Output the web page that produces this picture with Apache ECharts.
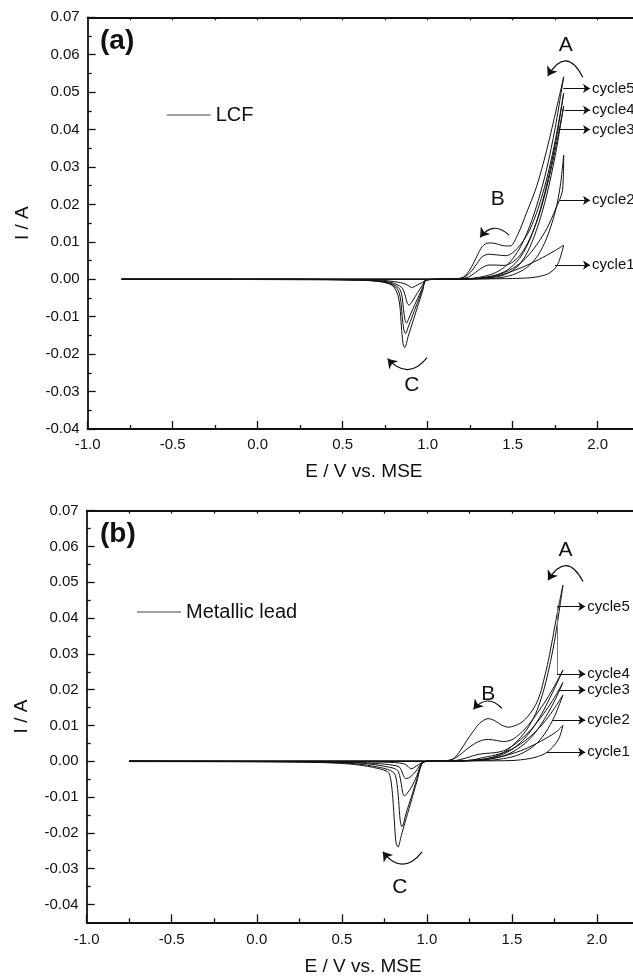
<!DOCTYPE html>
<html>
<head>
<meta charset="utf-8">
<script src="https://cdn.jsdelivr.net/npm/echarts@6/dist/echarts.min.js"></script>
<style>
  html, body { margin: 0; padding: 0; background: #fff; }
  #chart { width: 633px; height: 977px; }
</style>
</head>
<body>
<div id="chart"></div>
<script>
// ---------- axis ticks ----------
const xMajorTicks = [-1.0, -0.5, 0.0, 0.5, 1.0, 1.5, 2.0];
const xMinorTicks = [-0.75, -0.25, 0.25, 0.75, 1.25, 1.75];
const xTopTicks = [-0.75, -0.5, -0.25, 0, 0.25, 0.5, 0.75, 1.0, 1.25, 1.5, 1.75, 2.0];
const yMajorTicks = [-0.04, -0.03, -0.02, -0.01, 0, 0.01, 0.02, 0.03, 0.04, 0.05, 0.06, 0.07];
const yMinorTicks = [-0.035, -0.025, -0.015, -0.005, 0.005, 0.015, 0.025, 0.035, 0.045, 0.055, 0.065];

// ---------- (a) LCF : forward / reverse scans, [E (V vs. MSE), I (A)] ----------
const lcfFwd1 = [[-0.8,0],[0.5,0],[1.0,0],[1.3,0.0001],[1.5,0.0002],[1.6,0.0004],[1.65,0.0007],[1.7,0.0013],[1.74,0.0025],[1.77,0.0045],[1.8,0.0091]];
const lcfRev1 = [[1.8,0.0091],[1.75,0.0077],[1.7,0.0064],[1.65,0.0052],[1.6,0.0041],[1.55,0.0031],[1.5,0.0022],[1.45,0.0014],[1.4,0.0008],[1.35,0.0004],[1.3,0.0002],[1.2,0.0001],[1.05,0],[1.0,-0.0001],[0.97,-0.0008],[0.94,-0.0015],[0.92,-0.002],[0.905,-0.0022],[0.89,-0.0018],[0.87,-0.0013],[0.84,-0.0009],[0.8,-0.0006],[0.74,-0.0003],[0.6,-0.0001],[0.2,0],[-0.8,0]];

const lcfFwd2 = [[-0.8,0],[0.5,0],[1.0,0],[1.3,0.0001],[1.4,0.0003],[1.45,0.0006],[1.5,0.0012],[1.55,0.0022],[1.6,0.0038],[1.65,0.0065],[1.7,0.011],[1.75,0.018],[1.78,0.025],[1.8,0.0332]];
const lcfRev2 = [[1.8,0.0332],[1.793,0.0238],[1.75,0.0185],[1.7,0.0135],[1.65,0.0098],[1.6,0.0068],[1.55,0.0045],[1.5,0.0029],[1.45,0.0018],[1.4,0.0011],[1.35,0.0006],[1.3,0.0003],[1.2,0.0001],[1.05,0],[0.99,-0.0001],[0.97,-0.0015],[0.94,-0.0036],[0.91,-0.0058],[0.89,-0.0069],[0.88,-0.0064],[0.87,-0.0048],[0.86,-0.0032],[0.845,-0.0021],[0.82,-0.0014],[0.79,-0.0009],[0.74,-0.0005],[0.6,-0.0002],[0.2,0],[-0.8,0]];

const lcfFwd3 = [[-0.8,0],[0.5,0],[1.0,0],[1.2,0.0001],[1.3,0.0002],[1.4,0.0006],[1.45,0.0012],[1.5,0.0024],[1.55,0.0045],[1.6,0.0085],[1.65,0.0145],[1.7,0.0225],[1.75,0.033],[1.8,0.0463]];
const lcfRev3 = [[1.8,0.0463],[1.75,0.0345],[1.7,0.0245],[1.65,0.0165],[1.6,0.0108],[1.55,0.0068],[1.5,0.0046],[1.45,0.0037],[1.4,0.0038],[1.36,0.0038],[1.32,0.0031],[1.28,0.0018],[1.24,0.0006],[1.19,0.0001],[1.1,0],[0.99,-0.0002],[0.97,-0.0022],[0.94,-0.0052],[0.91,-0.0082],[0.89,-0.0103],[0.875,-0.0117],[0.866,-0.0108],[0.857,-0.0078],[0.85,-0.0048],[0.84,-0.003],[0.825,-0.0021],[0.8,-0.0014],[0.76,-0.0008],[0.7,-0.0004],[0.6,-0.0002],[0.2,0],[-0.8,0]];

const lcfFwd4 = [[-0.8,0],[0.5,0],[1.0,0],[1.2,0.0001],[1.3,0.0003],[1.35,0.0006],[1.4,0.0011],[1.45,0.002],[1.5,0.0036],[1.55,0.0062],[1.6,0.0105],[1.65,0.0168],[1.7,0.0252],[1.75,0.036],[1.8,0.0497]];
const lcfRev4 = [[1.8,0.0497],[1.75,0.037],[1.7,0.0268],[1.65,0.019],[1.6,0.0132],[1.55,0.0095],[1.5,0.0071],[1.46,0.0063],[1.41,0.0065],[1.36,0.0067],[1.32,0.006],[1.29,0.0042],[1.25,0.0018],[1.21,0.0005],[1.16,0.0001],[1.05,0],[0.99,-0.0002],[0.97,-0.0026],[0.94,-0.0062],[0.91,-0.0098],[0.885,-0.0128],[0.87,-0.0145],[0.86,-0.0135],[0.85,-0.01],[0.843,-0.0062],[0.833,-0.0037],[0.82,-0.0025],[0.8,-0.0017],[0.77,-0.001],[0.72,-0.0006],[0.6,-0.0002],[0.3,-0.0001],[-0.8,0]];

const lcfFwd5 = [[-0.8,0],[0.5,0],[1.0,0],[1.2,0.0001],[1.25,0.0002],[1.3,0.0005],[1.35,0.001],[1.4,0.0018],[1.45,0.0032],[1.5,0.0055],[1.55,0.009],[1.6,0.0142],[1.65,0.021],[1.7,0.0295],[1.75,0.0405],[1.8,0.0541]];
const lcfRev5 = [[1.8,0.0541],[1.76,0.0461],[1.7,0.0345],[1.64,0.0247],[1.58,0.0176],[1.53,0.012],[1.485,0.0089],[1.44,0.009],[1.395,0.0096],[1.355,0.0097],[1.32,0.0087],[1.29,0.0062],[1.25,0.0027],[1.21,0.0006],[1.16,0.0001],[1.05,0],[0.99,-0.0003],[0.97,-0.0031],[0.94,-0.0074],[0.91,-0.0117],[0.885,-0.0153],[0.865,-0.0183],[0.855,-0.0172],[0.845,-0.0125],[0.837,-0.0074],[0.828,-0.0048],[0.818,-0.0034],[0.8,-0.002],[0.778,-0.0013],[0.74,-0.0008],[0.7,-0.0005],[0.6,-0.0002],[0.4,-0.0001],[-0.8,0]];

// ---------- (b) Metallic lead ----------
const pbFwd1 = [[-0.75,0],[0.5,0],[1.0,0],[1.3,0.0001],[1.5,0.0002],[1.6,0.0007],[1.65,0.0013],[1.7,0.0023],[1.75,0.0045],[1.78,0.0068],[1.8,0.01]];
const pbRev1 = [[1.8,0.01],[1.76,0.0082],[1.7,0.0064],[1.65,0.0051],[1.6,0.0039],[1.55,0.0029],[1.5,0.0021],[1.45,0.0014],[1.4,0.0009],[1.35,0.0005],[1.3,0.0003],[1.2,0.0001],[1.05,0],[1.0,0],[0.97,-0.0004],[0.94,-0.0013],[0.92,-0.0019],[0.905,-0.0021],[0.89,-0.0015],[0.87,-0.0008],[0.84,-0.0005],[0.78,-0.0003],[0.6,-0.0002],[0.3,-0.0001],[-0.75,0]];

const pbFwd2 = [[-0.75,0],[0.5,0],[1.0,0],[1.3,0.0002],[1.4,0.0004],[1.5,0.0012],[1.55,0.002],[1.6,0.0033],[1.65,0.0052],[1.7,0.0082],[1.75,0.0125],[1.8,0.0185]];
const pbRev2 = [[1.8,0.0185],[1.75,0.0148],[1.7,0.0115],[1.65,0.0088],[1.6,0.0066],[1.55,0.0048],[1.5,0.0034],[1.45,0.0024],[1.4,0.0017],[1.36,0.0013],[1.32,0.0009],[1.27,0.0004],[1.2,0.0001],[1.05,0],[1.0,0],[0.97,-0.0005],[0.94,-0.0025],[0.91,-0.0041],[0.89,-0.0047],[0.875,-0.0048],[0.862,-0.004],[0.85,-0.0025],[0.835,-0.0015],[0.8,-0.0011],[0.75,-0.0008],[0.65,-0.0005],[0.5,-0.0002],[0.2,-0.0001],[-0.75,0]];

const pbFwd3 = [[-0.75,0],[0.5,0],[1.0,0],[1.25,0.0002],[1.35,0.0005],[1.45,0.0015],[1.5,0.0025],[1.55,0.004],[1.6,0.006],[1.65,0.0088],[1.7,0.0125],[1.75,0.0168],[1.8,0.022]];
const pbRev3 = [[1.8,0.022],[1.75,0.0178],[1.7,0.0142],[1.65,0.011],[1.6,0.0082],[1.55,0.006],[1.5,0.0042],[1.45,0.0029],[1.4,0.0024],[1.35,0.0022],[1.3,0.0019],[1.25,0.0012],[1.2,0.0005],[1.15,0.0001],[1.05,0],[1.0,0],[0.97,-0.0006],[0.94,-0.0042],[0.91,-0.0072],[0.885,-0.0089],[0.868,-0.0097],[0.858,-0.0088],[0.85,-0.0065],[0.84,-0.004],[0.828,-0.0026],[0.8,-0.0019],[0.76,-0.0015],[0.7,-0.001],[0.6,-0.0005],[0.4,-0.0002],[0,-0.0001],[-0.75,0]];

const pbFwd4 = [[-0.75,0],[0.5,0],[1.0,0],[1.2,0.0001],[1.3,0.0003],[1.4,0.0012],[1.45,0.002],[1.5,0.0033],[1.55,0.0052],[1.6,0.0078],[1.65,0.0112],[1.7,0.0155],[1.75,0.0203],[1.8,0.0255]];
const pbRev4 = [[1.8,0.0255],[1.75,0.021],[1.7,0.017],[1.65,0.0135],[1.6,0.0103],[1.55,0.0078],[1.5,0.006],[1.45,0.0055],[1.41,0.0058],[1.36,0.0061],[1.32,0.0058],[1.28,0.0049],[1.23,0.0032],[1.19,0.0016],[1.15,0.0005],[1.1,0.0001],[1.0,0],[0.97,-0.0007],[0.94,-0.0052],[0.91,-0.0098],[0.88,-0.0142],[0.853,-0.0183],[0.843,-0.0165],[0.834,-0.011],[0.825,-0.0065],[0.815,-0.004],[0.8,-0.003],[0.77,-0.0023],[0.72,-0.0017],[0.65,-0.0011],[0.55,-0.0006],[0.4,-0.0003],[0.1,-0.0001],[-0.75,0]];

const pbFwd5 = [[-0.75,0],[0.5,0],[1.0,0],[1.2,0.0001],[1.3,0.0004],[1.35,0.0007],[1.4,0.0013],[1.45,0.0024],[1.5,0.0042],[1.55,0.0066],[1.6,0.0098],[1.65,0.0145],[1.7,0.0222],[1.75,0.0335],[1.8,0.0492]];
const pbRev5 = [[1.8,0.0492],[1.765,0.041],[1.74,0.0345],[1.715,0.0283],[1.69,0.0232],[1.667,0.019],[1.64,0.0158],[1.608,0.0134],[1.58,0.0118],[1.549,0.0106],[1.515,0.0099],[1.48,0.0095],[1.44,0.0101],[1.4,0.0113],[1.36,0.0119],[1.31,0.0106],[1.27,0.0082],[1.235,0.0058],[1.2,0.0032],[1.17,0.0013],[1.14,0.0003],[1.1,0.0001],[1.0,0],[0.97,-0.0008],[0.94,-0.0058],[0.91,-0.0108],[0.88,-0.0157],[0.85,-0.0207],[0.83,-0.024],[0.818,-0.0225],[0.809,-0.017],[0.8,-0.0105],[0.79,-0.0058],[0.778,-0.0034],[0.76,-0.0027],[0.72,-0.0021],[0.65,-0.0014],[0.55,-0.0008],[0.4,-0.0004],[0.2,-0.0002],[-0.75,-0.0001]];

// ---------- annotations (data coordinates) ----------
const lcfPeakLetters = [['A', 1.812, 0.0626], ['B', 1.412, 0.0214], ['C', 0.906, -0.0283]];
const pbPeakLetters  = [['A', 1.815, 0.0590], ['B', 1.361, 0.0188], ['C', 0.841, -0.0351]];
// [start, end, curveness]
const lcfScanArrows = [[[1.912, 0.0540], [1.706, 0.0543], -0.9], [[1.478, 0.0118], [1.308, 0.0112], -0.55], [[0.9965, -0.0209], [0.764, -0.0212], 0.58]];
const pbScanArrows  = [[[1.918, 0.0502], [1.712, 0.0506], -0.87], [[1.441, 0.0148], [1.274, 0.0145], -0.55], [[0.972, -0.0253], [0.741, -0.0253], 0.63]];
// [label, start E, start I]; arrows run to a common E
const lcfCycleTags = [['cycle5', 1.798, 0.0510], ['cycle4', 1.804, 0.0452], ['cycle3', 1.765, 0.0400], ['cycle2', 1.774, 0.0211], ['cycle1', 1.749, 0.0038]];
const pbCycleTags  = [['cycle5', 1.765, 0.0432], ['cycle4', 1.765, 0.0244], ['cycle3', 1.771, 0.0199], ['cycle2', 1.735, 0.0115], ['cycle1', 1.706, 0.0025]];
const lcfTagEnd = 1.955;
const pbTagEnd = 1.931;
const pbTagBracket = [[1.765, 0.0432], [1.765, 0.0244]];

// ---------- styling ----------
const FONT = "'Liberation Sans', Arial, Helvetica, sans-serif";
const INK = '#111';
const X_MIN = -1.0, X_MAX = 2.25;

function cycleSeries(name, fwd, rev, xi, yi) {
  return [fwd, rev].map(d => ({
    name, type: 'line', xAxisIndex: xi, yAxisIndex: yi, data: d,
    showSymbol: false, symbol: 'none', smooth: 0.3, silent: true,
    lineStyle: { color: INK, width: 1 }, itemStyle: { color: INK }, z: 3
  }));
}

function letterSeries(items, xi, yi) {
  return {
    type: 'scatter', xAxisIndex: xi, yAxisIndex: yi, silent: true,
    symbol: 'circle', symbolSize: 1, itemStyle: { color: '#ffffff', opacity: 1 },
    data: items.map(([t, x, y]) => ({ name: t, value: [x, y] })),
    label: { show: true, position: 'inside', formatter: '{b}', fontSize: 21, fontFamily: FONT,
             color: INK, opacity: 1, textBorderWidth: 0 },
    z: 5
  };
}

function arcSeries(items, xi, yi) {
  return {
    type: 'lines', coordinateSystem: 'cartesian2d', xAxisIndex: xi, yAxisIndex: yi, silent: true,
    symbol: ['none', 'arrow'], symbolSize: 9,
    lineStyle: { color: INK, width: 1.2, opacity: 1 },
    data: items.map(([a, b, c]) => ({ coords: [a, b], lineStyle: { curveness: c } })),
    z: 4
  };
}

function tagSeries(items, endE, xi, yi) {
  return {
    type: 'lines', coordinateSystem: 'cartesian2d', xAxisIndex: xi, yAxisIndex: yi, silent: true,
    symbol: ['none', 'arrow'], symbolSize: 7,
    lineStyle: { color: INK, width: 1.1, opacity: 1 },
    label: { show: true, position: 'end', distance: 2, formatter: '{b}', fontSize: 15, fontFamily: FONT, color: INK },
    data: items.map(([t, e, i]) => ({ name: t, coords: [[e, i], [endE, i]] })),
    z: 4
  };
}

function xAxesFor(g, nameGap, labelMargin) {
  const common = { type: 'value', gridIndex: g, min: X_MIN, max: X_MAX, splitLine: { show: false } };
  return [
    { ...common, position: 'bottom',
      axisLine: { onZero: false, lineStyle: { color: INK, width: 1.8 } },
      axisTick: { inside: true, length: 8, customValues: xMajorTicks, lineStyle: { color: INK, width: 1.3 } },
      axisLabel: { customValues: xMajorTicks, formatter: v => v.toFixed(1), margin: labelMargin, fontSize: 15, fontFamily: FONT, color: INK },
      name: 'E / V vs. MSE', nameLocation: 'middle', nameGap,
      nameTextStyle: { fontSize: 19, fontFamily: FONT, color: INK } },
    { ...common, position: 'bottom',
      axisLine: { show: false, onZero: false },
      axisTick: { inside: true, length: 4, customValues: xMinorTicks, lineStyle: { color: INK, width: 1.3 } },
      axisLabel: { show: false } },
    { ...common, position: 'top',
      axisLine: { onZero: false, lineStyle: { color: INK, width: 1.8 } },
      axisTick: { inside: true, length: 3, customValues: xTopTicks, lineStyle: { color: INK, width: 1.2 } },
      axisLabel: { show: false } }
  ];
}

function yAxesFor(g, yMin) {
  const common = { type: 'value', gridIndex: g, min: yMin, max: 0.07, splitLine: { show: false } };
  return [
    { ...common, position: 'left',
      axisLine: { onZero: false, lineStyle: { color: INK, width: 1.8 } },
      axisTick: { inside: true, length: 8, customValues: yMajorTicks, lineStyle: { color: INK, width: 1.3 } },
      axisLabel: { customValues: yMajorTicks, formatter: v => v.toFixed(2), margin: 8, fontSize: 15, fontFamily: FONT, color: INK },
      name: 'I / A', nameLocation: 'middle', nameGap: 55,
      nameTextStyle: { fontSize: 19, fontFamily: FONT, color: INK } },
    { ...common, position: 'left',
      axisLine: { show: false, onZero: false },
      axisTick: { inside: true, length: 4, customValues: yMinorTicks, lineStyle: { color: INK, width: 1.3 } },
      axisLabel: { show: false } }
  ];
}

// legend key: a plain grey stroke followed by the sample name
const legendCommon = {
  orient: 'horizontal', padding: 0, itemWidth: 44, itemHeight: 1.5, selectedMode: false,
  icon: 'rect', itemStyle: { color: '#808080', borderWidth: 0 },
  textStyle: { fontSize: 20, fontFamily: FONT, color: INK }
};

const series = [
  ...cycleSeries('LCF', lcfFwd1, lcfRev1, 0, 0),
  ...cycleSeries('LCF', lcfFwd2, lcfRev2, 0, 0),
  ...cycleSeries('LCF', lcfFwd3, lcfRev3, 0, 0),
  ...cycleSeries('LCF', lcfFwd4, lcfRev4, 0, 0),
  ...cycleSeries('LCF', lcfFwd5, lcfRev5, 0, 0),
  letterSeries(lcfPeakLetters, 0, 0),
  arcSeries(lcfScanArrows, 0, 0),
  tagSeries(lcfCycleTags, lcfTagEnd, 0, 0),

  ...cycleSeries('Metallic lead', pbFwd1, pbRev1, 3, 2),
  ...cycleSeries('Metallic lead', pbFwd2, pbRev2, 3, 2),
  ...cycleSeries('Metallic lead', pbFwd3, pbRev3, 3, 2),
  ...cycleSeries('Metallic lead', pbFwd4, pbRev4, 3, 2),
  ...cycleSeries('Metallic lead', pbFwd5, pbRev5, 3, 2),
  letterSeries(pbPeakLetters, 3, 2),
  arcSeries(pbScanArrows, 3, 2),
  tagSeries(pbCycleTags, pbTagEnd, 3, 2),
  {
    type: 'lines', coordinateSystem: 'cartesian2d', xAxisIndex: 3, yAxisIndex: 2, silent: true,
    symbol: 'none', lineStyle: { color: '#777', width: 1, opacity: 1 },
    data: [{ coords: pbTagBracket }], z: 4
  }
];

const chart = echarts.init(document.getElementById('chart'), null, { renderer: 'canvas' });
chart.setOption({
  animation: false,
  backgroundColor: '#fff',
  textStyle: { fontFamily: FONT },
  title: [
    { text: '(a)', left: 100, top: 27, padding: 0, textStyle: { fontSize: 28, fontWeight: 'bold', fontFamily: FONT, color: INK } },
    { text: '(b)', left: 100, top: 520.5, padding: 0, textStyle: { fontSize: 28, fontWeight: 'bold', fontFamily: FONT, color: INK } }
  ],
  legend: [
    { ...legendCommon, data: ['LCF'], left: 166.7, top: 105 },
    { ...legendCommon, data: ['Metallic lead'], left: 137, top: 602 }
  ],
  grid: [
    { left: 87.7, top: 17.3, right: -7.2, height: 411.7, containLabel: false, outerBoundsMode: 'none' },
    { left: 86.7, top: 510.7, right: -6.5, height: 411.6, containLabel: false, outerBoundsMode: 'none' }
  ],
  xAxis: [...xAxesFor(0, 33, 8), ...xAxesFor(1, 35, 10)],
  yAxis: [...yAxesFor(0, -0.04), ...yAxesFor(1, -0.045)],
  series
});
</script>
</body>
</html>
